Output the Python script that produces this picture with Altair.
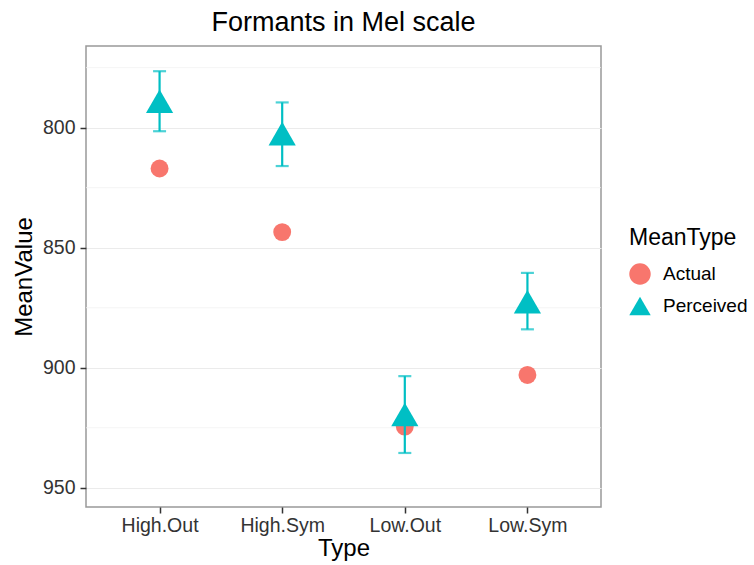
import altair as alt
import pandas as pd

types = ["High.Out", "High.Sym", "Low.Out", "Low.Sym"]
actual = [817.0, 843.5, 924.5, 903.0]
perceived = [789.0, 802.5, 919.5, 872.5]
perceived_lo = [776.5, 789.5, 903.5, 860.5]
perceived_hi = [801.5, 816.0, 935.5, 884.0]
mean_types = ["Actual", "Perceived"]
y_ticks = [800, 850, 900, 950]
y_minor = [775, 825, 875, 925]

rows = []
for t, a in zip(types, actual):
    rows.append({"Type": t, "MeanType": "Actual", "MeanValue": a})
for t, p in zip(types, perceived):
    rows.append({"Type": t, "MeanType": "Perceived", "MeanValue": p})
points = pd.DataFrame(rows)
errs = pd.DataFrame({"Type": types, "lo": perceived_lo, "hi": perceived_hi,
                     "MeanType": ["Perceived"] * 4})
minor = pd.DataFrame({"v": y_minor})

FONT = "Liberation Sans"
x_enc = alt.X("Type:N", title="Type", sort=types,
              scale=alt.Scale(type="point", padding=0.6),
              axis=alt.Axis(labelAngle=0))
y_scale = alt.Scale(domain=[766, 958], reverse=True, nice=False, zero=False)

color_scale = alt.Scale(domain=mean_types, range=["#F8766D", "#00BFC4"])
shape_scale = alt.Scale(domain=mean_types, range=["circle", "triangle-up"])

base = alt.Chart(points)

minor_grid = alt.Chart(minor).mark_rule(color="#F3F3F3", strokeWidth=0.8).encode(
    y=alt.Y("v:Q", scale=y_scale),
    x=alt.value(0), x2=alt.value(515)
)

err_rule = alt.Chart(errs).mark_rule(color="#00BFC4", strokeWidth=2.2).encode(
    x=x_enc,
    y=alt.Y("lo:Q", scale=y_scale),
    y2="hi:Q"
)
err_lo = alt.Chart(errs).mark_tick(color="#00BFC4", thickness=2.2, size=13).encode(
    x=x_enc, y=alt.Y("lo:Q", scale=y_scale)
)
err_hi = alt.Chart(errs).mark_tick(color="#00BFC4", thickness=2.2, size=13).encode(
    x=x_enc, y=alt.Y("hi:Q", scale=y_scale)
)

pts_actual = base.transform_filter(alt.datum.MeanType == "Actual").mark_point(
    filled=True, opacity=1, size=320
).encode(
    x=x_enc,
    y=alt.Y("MeanValue:Q", title="MeanValue", scale=y_scale,
            axis=alt.Axis(values=y_ticks)),
    color=alt.Color("MeanType:N", scale=color_scale, title="MeanType"),
    shape=alt.Shape("MeanType:N", scale=shape_scale, title="MeanType"),
)
pts_perc = base.transform_filter(alt.datum.MeanType == "Perceived").mark_point(
    filled=True, opacity=1, size=740
).encode(
    x=x_enc,
    y=alt.Y("MeanValue:Q", scale=y_scale),
    color=alt.Color("MeanType:N", scale=color_scale),
    shape=alt.Shape("MeanType:N", scale=shape_scale),
)

chart = alt.layer(minor_grid, pts_actual, err_rule, err_lo, err_hi, pts_perc).properties(
    width=515, height=461,
    title=alt.Title("Formants in Mel scale", fontSize=27, font=FONT,
                    fontWeight="normal", color="#000000", anchor="middle", offset=9),
    autosize=alt.AutoSizeParams(type="none"),
    padding={"left": 86, "top": 46, "right": 153, "bottom": 58},
).configure_view(
    stroke="#999999", strokeWidth=1.5
).configure_axis(
    labelFont=FONT, titleFont=FONT, labelFontSize=19.5, titleFontSize=24,
    labelColor="#333333", titleColor="#000000", titleFontWeight="normal",
    gridColor="#EBEBEB", gridWidth=1.2, domain=False,
    tickColor="#333333", tickSize=6, tickWidth=1.5,
    labelPadding=5,
).configure_axisY(
    titlePadding=6
).configure_axisX(
    labelPadding=3, titlePadding=2
).configure_legend(
    orient="none", legendX=543, legendY=181,
    titleFont=FONT, labelFont=FONT, titleFontSize=23, labelFontSize=19,
    titleFontWeight="normal", titleColor="#000000", labelColor="#000000",
    symbolSize=460, symbolStrokeWidth=0, rowPadding=10, titlePadding=13,
    symbolOpacity=1, labelOffset=12,
)

chart.save("out.html", embed_options={"renderer": "svg", "actions": False})
